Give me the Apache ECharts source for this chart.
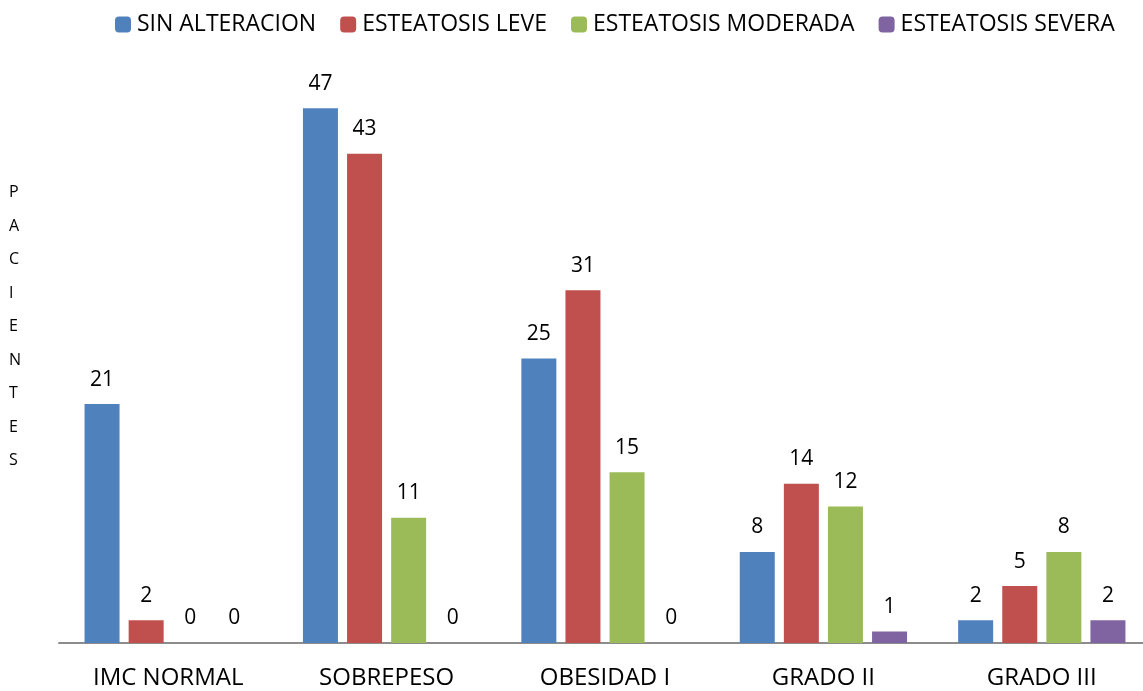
<!DOCTYPE html>
<html style="height: 100%">
<head>
  <meta charset="utf-8">
</head>
<body style="height: 100%; margin: 0; background: #fff">
  <div id="container" style="width: 1143px; height: 691px"></div>
  <script type="text/javascript" src="https://cdn.jsdelivr.net/npm/echarts@6/dist/echarts.min.js"></script>
  <script type="text/javascript">
    var categories = ['IMC NORMAL', 'SOBREPESO', 'OBESIDAD I', 'GRADO II', 'GRADO III'];
    var sinAlteracion = [21, 47, 25, 8, 2];
    var esteatosisLeve = [2, 43, 31, 14, 5];
    var esteatosisModerada = [0, 11, 15, 12, 8];
    var esteatosisSevera = [0, 0, 0, 1, 2];
    var seriesNames = ['SIN ALTERACION', 'ESTEATOSIS LEVE', 'ESTEATOSIS MODERADA', 'ESTEATOSIS SEVERA'];
    var colors = ['#4F81BD', '#C0504D', '#9BBB59', '#8064A2'];

    var dom = document.getElementById('container');
    var myChart = echarts.init(dom);

    var labelFont = 'Open Sans, Noto Sans, sans-serif';
    function bar(name, data, color) {
      return {
        name: name,
        type: 'bar',
        data: data,
        barWidth: 35,
        barGap: '26%',
        itemStyle: { color: color },
        label: {
          show: true,
          position: 'top',
          distance: 14,
          color: '#000',
          fontSize: 21,
          fontFamily: labelFont
        }
      };
    }

    var option = {
      color: colors,
      animation: false,
      legend: {
        top: 8,
        left: 110,
        itemWidth: 16,
        itemHeight: 16,
        itemGap: 24,
        textStyle: { fontSize: 23, color: '#000', fontFamily: labelFont, padding: [0, 0, 0, 1] },
        data: seriesNames
      },
      grid: {
        left: 59,
        width: 1092,
        top: 74,
        bottom: 48,
        containLabel: false,
        outerBoundsMode: 'none'
      },
      xAxis: {
        type: 'category',
        data: categories,
        axisLine: { lineStyle: { color: '#8c8c8c', width: 2 } },
        axisTick: { show: false },
        axisLabel: { color: '#000', fontSize: 24, fontFamily: labelFont, margin: 23 }
      },
      yAxis: {
        type: 'value',
        min: 0,
        max: 50,
        show: false
      },
      graphic: [{
        type: 'text',
        left: 9,
        top: 176,
        style: {
          text: 'PACIENTES'.split('').join('\n'),
          fontSize: 16,
          lineHeight: 33.5,
          fill: '#000',
          fontFamily: labelFont,
          align: 'center'
        }
      }],
      series: [
        bar(seriesNames[0], sinAlteracion, colors[0]),
        bar(seriesNames[1], esteatosisLeve, colors[1]),
        bar(seriesNames[2], esteatosisModerada, colors[2]),
        bar(seriesNames[3], esteatosisSevera, colors[3])
      ]
    };
    myChart.setOption(option);
  </script>
</body>
</html>
